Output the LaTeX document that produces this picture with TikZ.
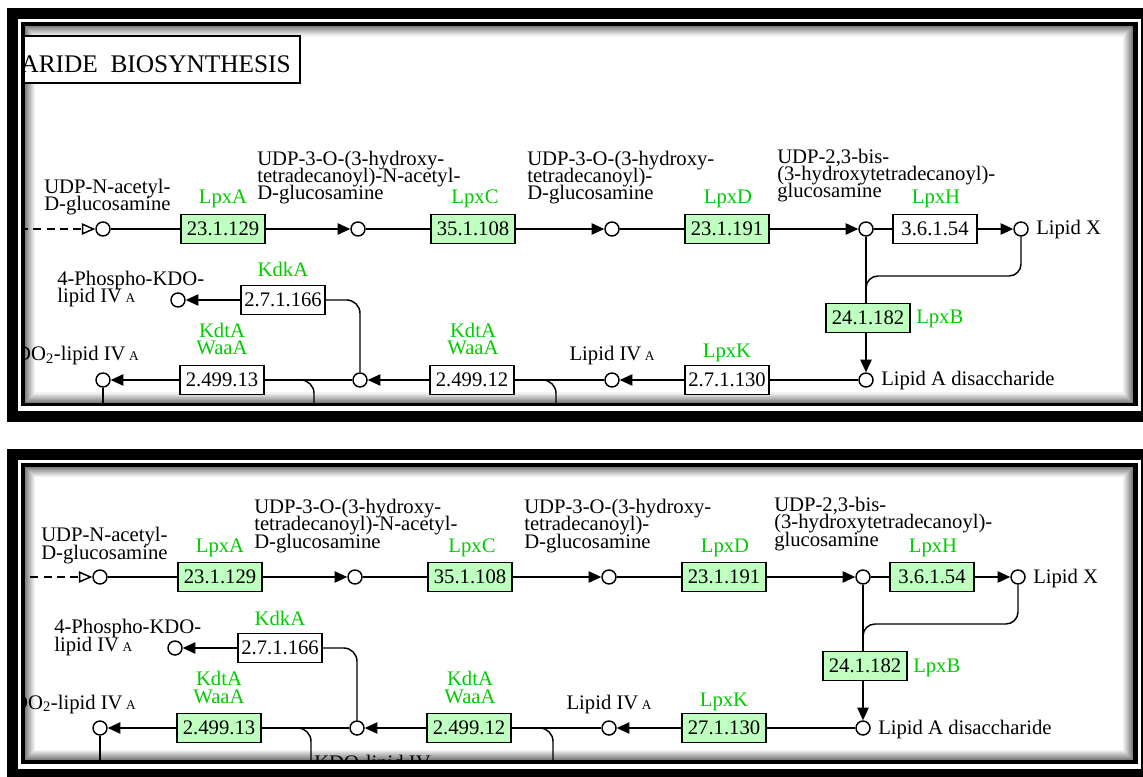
\documentclass[tikz,border=0pt]{standalone}
\usepackage{fontspec}
\setmainfont{Liberation Serif}
\usetikzlibrary{arrows.meta}
\definecolor{keggreen}{RGB}{0,204,0}
\definecolor{keggbox}{RGB}{191,255,191}

\begin{document}
\begin{tikzpicture}[x=0.75pt,y=-0.75pt,
  font={\fontsize{15.5pt}{12.9pt}\selectfont\lineskiplimit=-50pt},
  cpd/.style={circle,draw,line width=1.1pt,minimum size=10.5pt,inner sep=0pt,fill=white},
  ec/.style={draw,line width=1.1pt,minimum width=63pt,minimum height=21.5pt,inner sep=0pt},
  gene/.style={text=keggreen,inner sep=0pt,align=center},
  lbl/.style={inner sep=0pt,align=left},
  rx/.style={line width=1.1pt},
  fw/.style={rx,-{Triangle[length=9.5pt,width=8.5pt]}}]
\useasboundingbox (0,0) rectangle (1143,777);

\foreach \p/\ya/\yb/\dx/\dy/\off/\lk in {1/26.5/402.5/0/0/white/2.7.1.130, 2/467/760/-3/348/keggbox/27.1.130}{
  % frame
  \fill (7,\ya-18) rectangle (1150,\yb+19.5);
  \fill[white] (17.5,\ya-7.5) rectangle (1140.5,\yb+8.5);
  \fill (21,\ya-4) rectangle (1138,\yb+4);
  \fill[white] (25,\ya) rectangle (1133,\yb);
  \foreach \i [evaluate=\i as \g using int(50-5*\i)] in {0,...,9}
    \draw[black!\g,line width=0.8pt] (25.5+\i,\ya+0.5+\i) rectangle (1132.5-\i,\yb-0.5-\i);
  \begin{scope}
  \clip (25,\ya) rectangle (1133,\yb);
  \begin{scope}[shift={(\dx,\dy)}]
  % title
  \draw[line width=2.2pt,fill=white] (0,36) rectangle (300,83);
  \node[anchor=base east,inner sep=0pt,font={\fontsize{19pt}{19pt}\selectfont}] (title\p) at (291,73) {ARIDE\ \ BIOSYNTHESIS};

  % compounds
  \coordinate (in\p) at (20,229);
  \node[cpd] (c1\p) at (103,229) {};
  \node[cpd] (c2\p) at (358,229) {};
  \node[cpd] (c3\p) at (612,229) {};
  \node[cpd] (c4\p) at (866,229) {};
  \node[cpd] (c5\p) at (1021,229) {};
  \node[cpd] (c6\p) at (866,380) {};
  \node[cpd] (c7\p) at (612,380) {};
  \node[cpd] (c8\p) at (360,380) {};
  \node[cpd] (c9\p) at (103,380) {};
  \node[cpd] (c10\p) at (178,300) {};

  % enzymes
  \node[ec,fill=keggbox] (e1\p) at (223,229) {23.1.129};
  \node[ec,fill=keggbox] (e2\p) at (473,229) {35.1.108};
  \node[ec,fill=keggbox] (e3\p) at (727,229) {23.1.191};
  \node[ec,fill=\off] (e4\p) at (935,229) {3.6.1.54};
  \node[ec,fill=keggbox] (e5\p) at (868,318) {24.1.182};
  \node[ec,fill=\off] (e6\p) at (727,380) {\lk};
  \node[ec,fill=\off] (e7\p) at (472,380) {2.499.12};
  \node[ec,fill=\off] (e8\p) at (222,380) {2.499.13};
  \node[ec,fill=white] (e9\p) at (283,300) {2.7.1.166};

  % genes
  \node[gene,anchor=base] (g1\p) at (223,204) {LpxA};
  \node[gene,anchor=base] (g2\p) at (475,204) {LpxC};
  \node[gene,anchor=base] (g3\p) at (728,204) {LpxD};
  \node[gene,anchor=base] (g4\p) at (936,204) {LpxH};
  \node[gene,anchor=base west] (g5\p) at (916,324) {LpxB};
  \node[gene,anchor=base] (g6\p) at (727,358) {LpxK};
  \node[gene,anchor=base] (g7\p) at (473,355) {KdtA\\WaaA};
  \node[gene,anchor=base] (g8\p) at (222,355) {KdtA\\WaaA};
  \node[gene,anchor=base] (g9\p) at (283,277) {KdkA};

  % compound names (base = last line)
  \node[lbl,anchor=base west] (t1\p) at (44,211) {UDP-N-acetyl-\\D-glucosamine};
  \node[lbl,anchor=base west] (t2\p) at (257,200) {UDP-3-O-(3-hydroxy-\\tetradecanoyl)-N-acetyl-\\D-glucosamine};
  \node[lbl,anchor=base west] (t3\p) at (527,200) {UDP-3-O-(3-hydroxy-\\tetradecanoyl)-\\D-glucosamine};
  \node[lbl,anchor=base west] (t4\p) at (777,198) {UDP-2,3-bis-\\(3-hydroxytetradecanoyl)-\\glucosamine};
  \node[lbl,anchor=base west] (t5\p) at (1036,235) {Lipid X};
  \node[lbl,anchor=base west] (t6\p) at (881,386) {Lipid A disaccharide};
  \node[lbl,anchor=base] (t7\p) at (612,361) {Lipid IV\,{\normalsize A}};
  \node[lbl,anchor=base east] (t9\p) at (139,361) {KDO\textsubscript{2}-lipid IV\,{\normalsize A}};
  \node[lbl,anchor=base west] (t10\p) at (57,303) {4-Phospho-KDO-\\lipid IV\,{\normalsize A}};
  \node[lbl,anchor=base west] (t8\p) at (317,421) {KDO-lipid IV\,{\normalsize A}};

  % reactions
  \draw[rx,dashed,dash pattern=on 6pt off 4pt,-{Triangle[open,length=10pt,width=8.5pt]}] (in\p) -- (c1\p);
  \draw[rx] (c1\p) -- (e1\p);
  \draw[fw] (e1\p) -- (c2\p);
  \draw[rx] (c2\p) -- (e2\p);
  \draw[fw] (e2\p) -- (c3\p);
  \draw[rx] (c3\p) -- (e3\p);
  \draw[fw] (e3\p) -- (c4\p);
  \draw[rx] (c4\p) -- (e4\p);
  \draw[fw] (e4\p) -- (c5\p);
  \draw[rx] (c4\p) -- (c4\p |- e5\p.north);
  \draw[fw] (c4\p |- e5\p.south) -- (c6\p);
  \coordinate (j2\p) at (866,276);
  \coordinate (j3\p) at (866,296);
  \draw[rx,rounded corners=9pt] (c5\p) |- (j2\p) -- (j3\p);

  \draw[rx] (c6\p) -- (e6\p);
  \draw[fw] (e6\p) -- (c7\p);
  \draw[rx] (c7\p) -- (e7\p);
  \draw[fw] (e7\p) -- (c8\p);
  \draw[rx] (c8\p) -- (e8\p);
  \draw[fw] (e8\p) -- (c9\p);
  \draw[rx,rounded corners=10pt] (e9\p) -| (c8\p);
  \draw[fw] (e9\p) -- (c10\p);
  \coordinate (out\p) at (103,470);
  \draw[rx] (c9\p) -- (out\p);
  \coordinate (j1\p) at (298,380);
  \coordinate (b1\p) at (314,470);
  \draw[rx,rounded corners=10pt] (j1\p) -| (b1\p);
  \coordinate (j4\p) at (540,380);
  \coordinate (b2\p) at (556,470);
  \draw[rx,rounded corners=10pt] (j4\p) -| (b2\p);
  \end{scope}
  \end{scope}
}
\end{tikzpicture}
\end{document}
